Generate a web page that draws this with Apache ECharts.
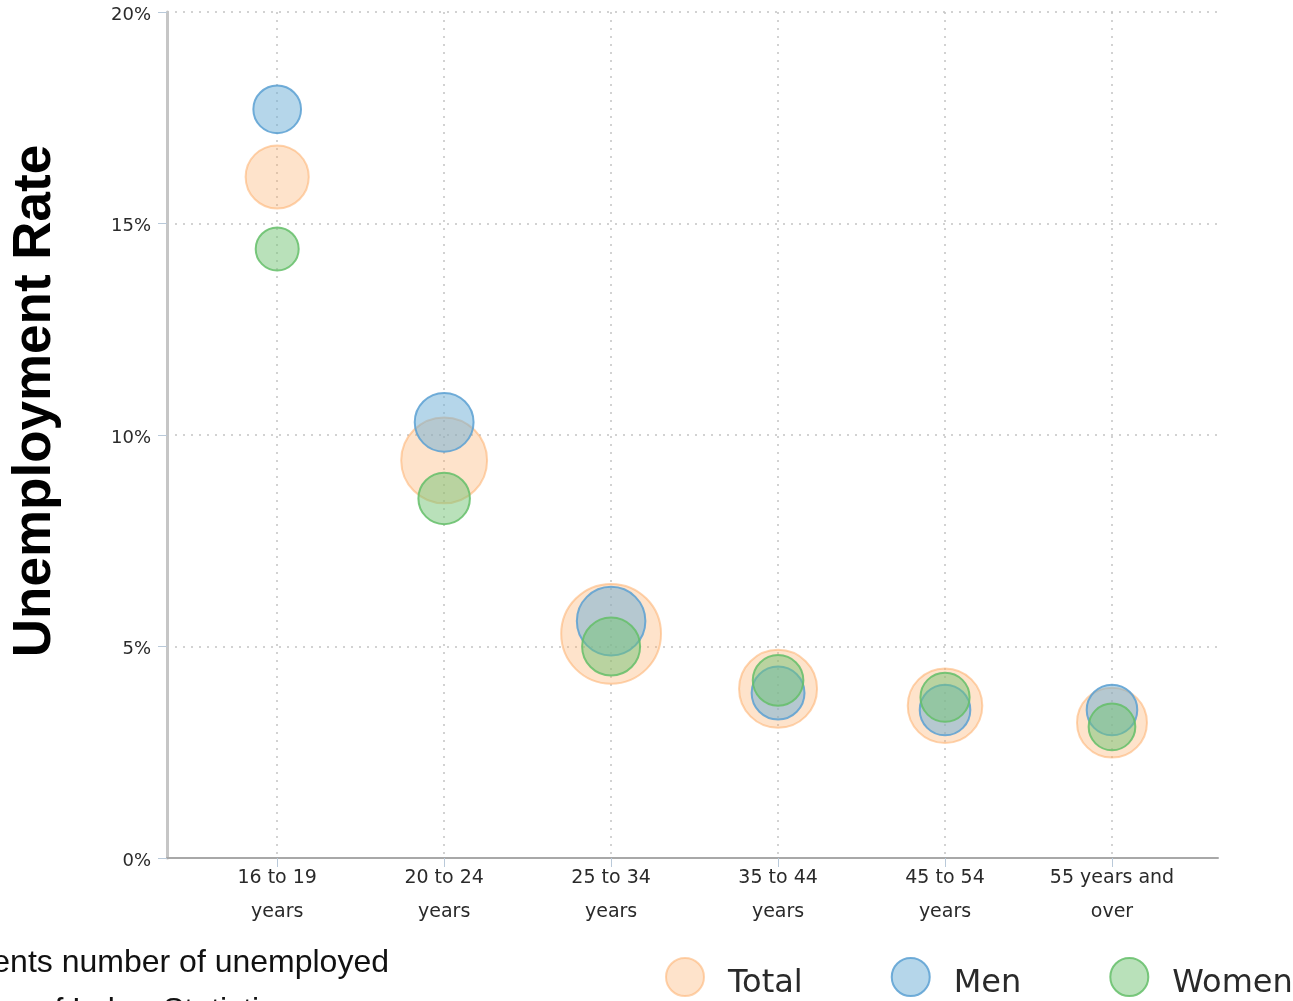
<!DOCTYPE html>
<html>
<head>
<meta charset="utf-8">
<script src="https://cdn.jsdelivr.net/npm/echarts@6/dist/echarts.min.js"></script>
<style>
  html, body { margin: 0; padding: 0; background: #fff; }
  #chart { width: 1293px; height: 1001px; }
</style>
</head>
<body>
<div id="chart"></div>
<script>
// Age groups along the x axis
const ageGroups = ['16 to 19\nyears', '20 to 24\nyears', '25 to 34\nyears', '35 to 44\nyears', '45 to 54\nyears', '55 years and\nover'];
const groupPositions = [1, 2, 3, 4, 5, 6];

// Unemployment rate, percent
const totalRate = [16.1, 9.4, 5.3, 4.0, 3.6, 3.2];
const menRate = [17.7, 10.3, 5.6, 3.9, 3.5, 3.5];
const womenRate = [14.4, 8.5, 5.0, 4.2, 3.8, 3.1];

// Number of unemployed persons, thousands (bubble area)
const totalUnemployed = [850, 1560, 2100, 1290, 1180, 1040];
const menUnemployed = [490, 740, 1000, 600, 550, 550];
const womenUnemployed = [400, 570, 720, 550, 520, 470];

// Y axis ticks, percent
const yTicks = [0, 5, 10, 15, 20];

const seriesNames = ['Total', 'Men', 'Women'];

function toPoints(rates, counts) {
  return groupPositions.map((x, i) => [x, rates[i], counts[i]]);
}

// bubble diameter grows with the square root of the count, so area tracks the count
function bubbleSize(val) {
  return 2.2 * Math.sqrt(val[2]) - 1;
}

function bubbleSeries(name, rates, counts, fill, stroke) {
  return {
    name: name,
    type: 'scatter',
    data: toPoints(rates, counts),
    symbol: 'circle',
    symbolSize: bubbleSize,
    itemStyle: { color: fill, borderColor: stroke, borderWidth: 2, opacity: 1 },
    emphasis: { disabled: true },
    silent: true
  };
}

const chart = echarts.init(document.getElementById('chart'), null, { renderer: 'canvas' });

chart.setOption({
  animation: false,
  backgroundColor: '#ffffff',
  grid: { left: 167, top: 12, right: 75, bottom: 143, containLabel: false },
  xAxis: {
    type: 'value',
    min: 0.34,
    max: 6.635,
    axisLine: { show: true, lineStyle: { color: '#a8a8a8', width: 2 } },
    axisTick: { show: true, customValues: groupPositions, length: 9, lineStyle: { color: '#b9c9d9', width: 1 } },
    axisLabel: {
      customValues: groupPositions,
      formatter: (v) => ageGroups[Math.round(v) - 1] || '',
      fontFamily: 'DejaVu Sans',
      fontSize: 19,
      lineHeight: 34,
      color: '#2a2a2a',
      margin: 3
    },
    splitLine: { show: true, lineStyle: { color: '#c4c4c4', width: 1.5, type: [2, 6] } }
  },
  yAxis: {
    type: 'value',
    min: yTicks[0],
    max: yTicks[yTicks.length - 1],
    interval: 5,
    axisLine: { show: true, lineStyle: { color: '#c6c6c6', width: 3 } },
    axisTick: { show: true, length: 9, lineStyle: { color: '#b9c9d9', width: 1 } },
    axisLabel: {
      formatter: '{p|{value}%}',
      rich: { p: { fontFamily: 'DejaVu Sans', fontSize: 18, color: '#2a2a2a', padding: [6, 0, 0, 0] } },
      margin: 16
    },
    splitLine: { show: true, lineStyle: { color: '#c4c4c4', width: 1.5, type: [2, 6] } }
  },
  legend: {
    data: seriesNames,
    icon: 'circle',
    left: 665,
    top: 957,
    padding: 0,
    itemWidth: 40,
    itemHeight: 38,
    itemGap: 88,
    selectedMode: false,
    formatter: '{t|{name}}',
    textStyle: {
      padding: [0, 0, 0, 18],
      rich: { t: { fontFamily: 'DejaVu Sans', fontSize: 32, color: '#2a2a2a', padding: [14, 0, 0, 0] } }
    }
  },
  graphic: [
    {
      type: 'text',
      x: 35,
      y: 401,
      rotation: Math.PI / 2,
      style: {
        text: 'Unemployment Rate',
        fontFamily: 'Liberation Sans',
        fontWeight: 'bold',
        fontSize: 53,
        fill: '#000',
        align: 'center',
        verticalAlign: 'middle'
      }
    },
    {
      type: 'text',
      x: 389,
      y: 963,
      style: {
        text: 'Bubble size represents number of unemployed',
        fontFamily: 'Liberation Sans',
        fontSize: 32,
        fill: '#111',
        align: 'right',
        verticalAlign: 'middle'
      }
    },
    {
      type: 'text',
      x: 291,
      y: 1011,
      style: {
        text: 'Source: Bureau of Labor Statistics',
        fontFamily: 'Liberation Sans',
        fontSize: 32,
        fill: '#111',
        align: 'right',
        verticalAlign: 'middle'
      }
    }
  ],
  series: [
    bubbleSeries('Total', totalRate, totalUnemployed, 'rgba(253,174,107,0.35)', 'rgba(253,174,107,0.55)'),
    bubbleSeries('Men', menRate, menUnemployed, 'rgba(107,174,214,0.5)', 'rgba(90,160,210,0.85)'),
    bubbleSeries('Women', womenRate, womenUnemployed, 'rgba(116,196,118,0.5)', 'rgba(100,190,105,0.85)')
  ]
});
</script>
</body>
</html>
